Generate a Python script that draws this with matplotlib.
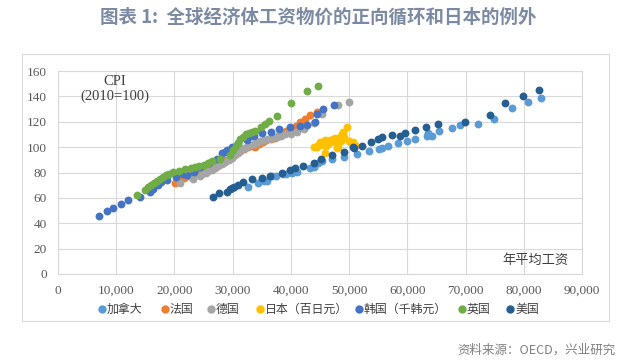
import matplotlib.pyplot as plt
from matplotlib.lines import Line2D
from matplotlib.patches import Rectangle

plt.rcParams['font.family'] = ['Noto Sans CJK SC', 'DejaVu Sans']

# annual wage (thousands) vs CPI (2010=100)
canada_x = [32.7, 34.4, 35.3, 35.9, 36.7, 37.4, 38.7, 39.1, 40.2, 41.0, 43.3, 43.9, 44.7, 45.3, 47.0, 49.1, 51.3,
            53.4, 55.1, 55.6, 56.6, 58.4, 59.9, 61.3, 63.3, 63.6, 64.3, 65.5, 67.7, 69.0, 72.2, 74.8, 77.9, 80.8, 83.0]
canada_y = [68.5, 71.8, 73.2, 73.5, 77, 77.5, 78.8, 78.7, 79.8, 80.6, 83.3, 84.6, 87.7, 89.3, 90.4, 92.5, 94.6,
            96.9, 98.5, 99, 100.9, 103.5, 105, 106.4, 108.7, 111.4, 109, 112.7, 115.3, 117.4, 118.2, 122.4, 130.6, 135.5, 139]

france_x = [20.1, 21.0, 21.6, 22.5, 23.2, 24.0, 24.8, 25.5, 26.2, 27.0, 27.8, 28.5, 29.3, 30.0, 30.6, 31.3, 32.0,
            32.6, 33.4, 33.9, 34.5, 35.2, 35.8, 36.5, 37.2, 37.8, 38.5, 39.1, 39.8, 40.8, 41.6, 42.5, 43.3, 44.4]
france_y = [72, 74.5, 76, 77.5, 79, 80.5, 82, 83.5, 85, 86.5, 88, 89.5, 91, 93, 95, 97, 98.5,
            100, 100.5, 100.3, 102.5, 104, 105.5, 106.5, 107, 108.5, 110.5, 112.5, 114, 117, 119.5, 122, 125, 127.5]

germany_x = [21.0, 23.2, 24.4, 24.7, 25.5, 25.8, 26.5, 26.9, 27.5, 28.1, 28.6, 29.3, 29.8, 30.4, 30.9, 31.5, 32.0,
             32.4, 33.0, 33.6, 34.1, 34.7, 35.3, 36.0, 36.5, 37.3, 37.6, 38.3, 39.0, 40.0, 41.0, 42.3, 43.9, 45.3, 48.1, 50.0]
germany_y = [71.4, 74.7, 77.5, 78.5, 80, 81, 82, 83.3, 85, 87, 88.5, 90, 91.5, 93.5, 95.5, 97.5, 99,
             100.3, 101.5, 102.5, 103.3, 104.5, 105.6, 106.3, 107, 108, 108.2, 108.7, 110, 110.5, 112.2, 114, 118.7, 126, 133.2, 135.3]

japan_x = [43.9, 44.4, 44.7, 45.0, 45.3, 45.6, 45.9, 45.9, 46.2, 46.5, 46.7, 47.0, 47.3, 47.6, 47.9, 47.9, 48.1,
           48.4, 48.7, 48.9, 49.2, 49.7, 49.9, 50.2, 50.5, 50.7, 51.0, 46.0, 47.5, 48.6]
japan_y = [100, 100.3, 102, 104.3, 103, 101.5, 106, 95.6, 104.5, 103.5, 105.6, 105, 106.5, 106.9, 103.5, 99, 100.3,
           107.7, 110, 112.2, 108, 115.6, 104.5, 104.3, 103.5, 104.3, 101.6, 101, 104, 104.5]

korea_x = [7.1, 8.4, 9.4, 10.8, 12.0, 14.0, 15.8, 16.4, 17.2, 17.7, 18.8, 20.3, 21.4, 22.1, 23.3, 24.4, 25.9, 27.3,
           28.1, 28.6, 29.1, 29.8, 30.2, 31.0, 32.4, 33.3, 33.6, 35.1, 36.6, 38.0, 39.8, 41.6, 42.8, 44.1, 44.4, 45.6, 47.4]
korea_y = [45.5, 49.9, 52.3, 55.4, 58.6, 60.9, 64.4, 66.7, 70, 72.3, 74, 76.7, 78.6, 78, 80.6, 84, 87.7, 91,
           95, 95.8, 98, 99.8, 100.3, 103.4, 105.5, 108.5, 108.7, 110.8, 112.3, 114, 115.6, 116.6, 117.4, 120, 126, 129.8, 133.2]

uk_x = [13.6, 15.0, 15.5, 16.0, 16.5, 17.0, 17.5, 18.1, 18.6, 19.1, 19.7, 20.8, 21.8, 22.9, 23.5, 24.3, 25.0, 25.8,
        26.4, 27.8, 29.5, 30.1, 30.5, 30.9, 31.3, 31.8, 32.3, 32.8, 33.3, 33.9, 34.8, 35.5, 36.3, 37.6, 40.1, 42.8, 44.7]
uk_y = [62.2, 66, 68.5, 70, 71.5, 73, 75, 76.5, 78, 79, 80.3, 81.5, 82.5, 83.5, 84.5, 85.5, 86, 87.5,
        89, 91, 93.5, 97.5, 100.5, 103.5, 106.5, 108, 110, 111, 112, 113, 115.5, 118.5, 120.7, 124.4, 135, 144, 148]

usa_x = [26.6, 27.7, 29.0, 29.6, 29.9, 30.3, 30.9, 31.8, 33.3, 35.0, 36.4, 38.4, 39.8, 40.7, 42.0, 43.9, 45.1, 47.1,
         49.2, 50.6, 50.9, 52.2, 53.7, 55.0, 55.7, 57.3, 58.7, 59.6, 61.3, 63.2, 65.3, 69.9, 74.2, 76.8, 79.9, 82.6]
usa_y = [60.7, 63.5, 64.9, 66.7, 67.5, 68.8, 70.2, 72.2, 74.9, 75.8, 77.6, 79.3, 82.3, 83.4, 85.3, 87.8, 90.6, 93.5,
         96.4, 99.8, 99.5, 101.1, 104, 106.1, 107.7, 109.3, 109, 110.9, 113.5, 116.1, 118.4, 119.5, 125, 135, 140.3, 144.7]

names = ['加拿大', '法国', '德国', '日本（百日元）', '韩国（千韩元）', '英国', '美国']
colors = ['#5B9BD5', '#ED7D31', '#A5A5A5', '#FFC000', '#4472C4', '#70AD47', '#255E91']
series = [(canada_x, canada_y), (france_x, france_y), (germany_x, germany_y), (japan_x, japan_y),
          (korea_x, korea_y), (uk_x, uk_y), (usa_x, usa_y)]

W, H = 636, 362
fig = plt.figure(figsize=(6.36, 3.62), dpi=100)
ax = fig.add_axes([58 / W, 1 - 274 / H, 524 / W, 203 / H])

# outer chart frame
fig.patches.append(Rectangle((22 / W, 1 - 321 / H), 587 / W, 267 / H, transform=fig.transFigure,
                             fill=False, edgecolor='#d9d9d9', linewidth=0.8))

for (xs, ys), name, c in zip(series, names, colors):
    ax.scatter([v * 1000 for v in xs], ys, s=32, color=c, label=name, linewidths=0, zorder=3)

ax.set_xlim(0, 90000)
ax.set_ylim(0, 160)
ax.set_xticks(range(0, 90001, 10000))
ax.set_yticks(range(0, 161, 20))
ax.set_xticklabels(['0'] + [f'{v:,}' for v in range(10000, 90001, 10000)])
ax.grid(True, color='#d9d9d9', linewidth=0.8, zorder=0)
ax.set_axisbelow(True)
for sp in ax.spines.values():
    sp.set_color('#d9d9d9')
ax.tick_params(length=0, pad=8, colors='#595959', labelsize=9.5)
for lab in ax.get_xticklabels() + ax.get_yticklabels():
    lab.set_family('Liberation Serif')

ax.text(9800, 146, 'CPI\n(2010=100)', ha='center', va='center', fontsize=10.5,
        family='Liberation Serif', color='#404040', linespacing=1.15)
ax.text(82000, 11, '年平均工资', ha='center', va='center', fontsize=9.5, color='#404040')

# legend laid out by hand: marker then label, one row under the tick labels
leg_x = [102, 165, 211, 260, 359, 462, 510]
leg_y = 1 - 309 / H
for px, name, c in zip(leg_x, names, colors):
    fig.add_artist(Line2D([px / W], [leg_y], transform=fig.transFigure, marker='o', markersize=5,
                          color=c, linestyle='none'))
    fig.text((px + 5) / W, leg_y, name, ha='left', va='center', fontsize=8.6, color='#404040')

fig.text(0.5, 0.953, '图表 1:  全球经济体工资物价的正向循环和日本的例外', ha='center', va='center',
         fontsize=13.3, fontweight='bold', color='#7b8aa3')
fig.text(0.968, 0.033, '资料来源：OECD，兴业研究', ha='right', va='center', fontsize=9, color='#808080')

fig.savefig('out.png', dpi=100)
